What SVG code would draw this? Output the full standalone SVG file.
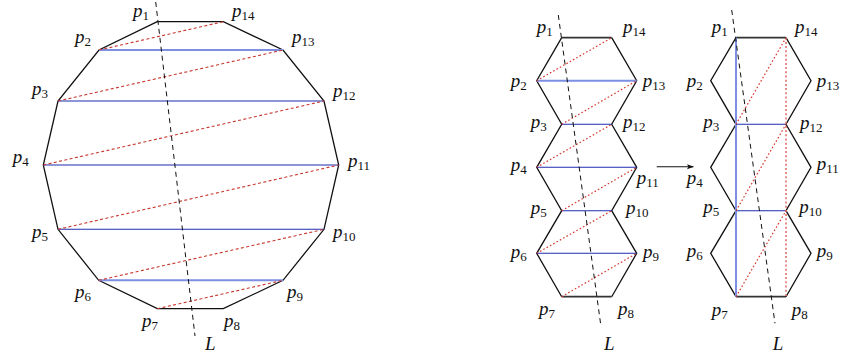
<svg xmlns="http://www.w3.org/2000/svg" width="844" height="354" viewBox="0 0 844 354">
<defs>
<style>
.poly{fill:none;stroke:#111;stroke-width:1.3;stroke-linejoin:miter}
.edge{stroke:#333;stroke-width:1.8}
.L{stroke:#111;stroke-width:1;stroke-dasharray:5 4;fill:none}
.lb{stroke:#7d8fe3;stroke-width:2}
.db{stroke:#1f2cb0;stroke-width:1.1}
.rd{stroke:#c8372d;stroke-width:1.1;stroke-dasharray:3 2.4}
.rdot{stroke:#d8382c;stroke-width:1.2;stroke-dasharray:1.6 2.2}
.rv{stroke:#e0706a;stroke-width:1.6;stroke-dasharray:2 2.2}
text{font-family:"Liberation Serif","DejaVu Serif",serif;font-style:italic;font-size:19px;fill:#111}
.s{font-size:13px;font-style:normal}
</style>
<marker id="ah" viewBox="0 0 10 10" refX="9" refY="5" markerWidth="7" markerHeight="7" orient="auto" markerUnits="userSpaceOnUse"><path d="M0,1.5 L10,5 L0,8.5 L2,5 Z" fill="#111"/></marker>
</defs>

<g id="left-polygon">
<polygon class="poly" points="157.3,21.7 99,50 58,101 43.3,165 58,229.3 98.7,280.3 157.3,308.7 223.3,308.7 283,280.3 324,229.3 338.7,165 324,101 283,50 223.3,21.7"/>
<g id="left-chords">
<line class="lb" x1="99" y1="50" x2="283" y2="50"/>
<line class="db" x1="58" y1="101" x2="324" y2="101"/>
<line class="db" x1="43.3" y1="165" x2="338.7" y2="165"/>
<line class="db" x1="58" y1="229.3" x2="324" y2="229.3"/>
<line class="lb" x1="98.7" y1="280.3" x2="283" y2="280.3"/>
<line class="rd" x1="99" y1="50" x2="223.3" y2="21.7"/>
<line class="rd" x1="58" y1="101" x2="283" y2="50"/>
<line class="rd" x1="43.3" y1="165" x2="324" y2="101"/>
<line class="rd" x1="58" y1="229.3" x2="338.7" y2="165"/>
<line class="rd" x1="98.7" y1="280.3" x2="324" y2="229.3"/>
<line class="rd" x1="157.3" y1="308.7" x2="283" y2="280.3"/>
</g>
<line class="L" x1="155.7" y1="2" x2="195" y2="336"/>
<g id="left-labels">
<text x="133" y="17">p<tspan class="s" dy="3">1</tspan></text>
<text x="232" y="17">p<tspan class="s" dy="3">14</tspan></text>
<text x="75" y="43">p<tspan class="s" dy="3">2</tspan></text>
<text x="292" y="43">p<tspan class="s" dy="3">13</tspan></text>
<text x="32" y="95">p<tspan class="s" dy="3">3</tspan></text>
<text x="333" y="97">p<tspan class="s" dy="3">12</tspan></text>
<text x="12.7" y="163">p<tspan class="s" dy="3">4</tspan></text>
<text x="348" y="167">p<tspan class="s" dy="3">11</tspan></text>
<text x="32" y="238">p<tspan class="s" dy="3">5</tspan></text>
<text x="333" y="238">p<tspan class="s" dy="3">10</tspan></text>
<text x="75" y="298">p<tspan class="s" dy="3">6</tspan></text>
<text x="287" y="298">p<tspan class="s" dy="3">9</tspan></text>
<text x="142" y="327">p<tspan class="s" dy="3">7</tspan></text>
<text x="224" y="327">p<tspan class="s" dy="3">8</tspan></text>
<text x="205" y="350">L</text>
</g>
</g>

<g id="middle-polygon">
<polyline class="poly" points="611.7,37.7 636.7,80.7 611.7,124.3 636.7,167.3 611.7,210.7 636.7,253.3 611.7,296.7"/>
<polyline class="poly" points="561.7,37.7 536.7,80.7 561.7,124.3 536.7,167.3 561.7,210.7 536.7,253.3 561.7,296.7"/>
<line class="poly edge" x1="561.7" y1="37.7" x2="611.7" y2="37.7"/>
<line class="poly edge" x1="561.7" y1="296.7" x2="611.7" y2="296.7"/>
<g id="middle-chords">
<line class="lb" x1="536.7" y1="80.7" x2="636.7" y2="80.7"/>
<line class="db" x1="561.7" y1="124.3" x2="611.7" y2="124.3"/>
<line class="db" x1="536.7" y1="167.3" x2="636.7" y2="167.3"/>
<line class="db" x1="561.7" y1="210.7" x2="611.7" y2="210.7"/>
<line class="db" x1="536.7" y1="253.3" x2="636.7" y2="253.3"/>
<line class="rdot" x1="536.7" y1="80.7" x2="611.7" y2="37.7"/>
<line class="rdot" x1="561.7" y1="124.3" x2="636.7" y2="80.7"/>
<line class="rdot" x1="536.7" y1="167.3" x2="611.7" y2="124.3"/>
<line class="rdot" x1="561.7" y1="210.7" x2="636.7" y2="167.3"/>
<line class="rdot" x1="536.7" y1="253.3" x2="611.7" y2="210.7"/>
<line class="rdot" x1="561.7" y1="296.7" x2="636.7" y2="253.3"/>
</g>
<line class="L" x1="558.3" y1="15" x2="601" y2="326.7"/>
<g id="middle-labels">
<text x="536.7" y="33">p<tspan class="s" dy="3">1</tspan></text>
<text x="623" y="33">p<tspan class="s" dy="3">14</tspan></text>
<text x="510.7" y="87">p<tspan class="s" dy="3">2</tspan></text>
<text x="642.7" y="87">p<tspan class="s" dy="3">13</tspan></text>
<text x="530.7" y="128">p<tspan class="s" dy="3">3</tspan></text>
<text x="623" y="128">p<tspan class="s" dy="3">12</tspan></text>
<text x="510.7" y="171">p<tspan class="s" dy="3">4</tspan></text>
<text x="636.7" y="184">p<tspan class="s" dy="3">11</tspan></text>
<text x="530.7" y="214">p<tspan class="s" dy="3">5</tspan></text>
<text x="626" y="214">p<tspan class="s" dy="3">10</tspan></text>
<text x="510.7" y="258">p<tspan class="s" dy="3">6</tspan></text>
<text x="643" y="258">p<tspan class="s" dy="3">9</tspan></text>
<text x="539" y="315">p<tspan class="s" dy="3">7</tspan></text>
<text x="618" y="315">p<tspan class="s" dy="3">8</tspan></text>
<text x="604" y="350">L</text>
</g>
</g>

<g id="connectors">
<line x1="656.7" y1="166.7" x2="693.3" y2="166.7" stroke="#111" stroke-width="1.1" marker-end="url(#ah)"/>
</g>

<g id="right-polygon">
<polyline class="poly" points="786,37.7 811,80.7 786,124.3 811,167.3 786,210.7 811,253.3 786,296.7"/>
<polyline class="poly" points="736,37.7 710.7,80.7 736,124.3 710.7,167.3 736,210.7 710.7,253.3 736,296.7"/>
<line class="poly edge" x1="736" y1="37.7" x2="786" y2="37.7"/>
<line class="poly edge" x1="736" y1="296.7" x2="786" y2="296.7"/>
<g id="right-chords">
<line class="lb" x1="736" y1="37.7" x2="736" y2="296.7"/>
<line class="db" x1="736" y1="124.3" x2="786" y2="124.3"/>
<line class="db" x1="736" y1="210.7" x2="786" y2="210.7"/>
<line class="rv" x1="786" y1="37.7" x2="786" y2="296.7"/>
<line class="rdot" x1="736" y1="124.3" x2="786" y2="37.7"/>
<line class="rdot" x1="736" y1="210.7" x2="786" y2="124.3"/>
<line class="rdot" x1="736" y1="296.7" x2="786" y2="210.7"/>
</g>
<line class="L" x1="731.7" y1="10" x2="775" y2="323.3"/>
<g id="right-labels">
<text x="711.7" y="33">p<tspan class="s" dy="3">1</tspan></text>
<text x="795" y="33">p<tspan class="s" dy="3">14</tspan></text>
<text x="686.7" y="87">p<tspan class="s" dy="3">2</tspan></text>
<text x="816.7" y="87">p<tspan class="s" dy="3">13</tspan></text>
<text x="703.3" y="128">p<tspan class="s" dy="3">3</tspan></text>
<text x="800" y="129">p<tspan class="s" dy="3">12</tspan></text>
<text x="686.7" y="184">p<tspan class="s" dy="3">4</tspan></text>
<text x="816.7" y="170">p<tspan class="s" dy="3">11</tspan></text>
<text x="703.3" y="213">p<tspan class="s" dy="3">5</tspan></text>
<text x="799.3" y="213">p<tspan class="s" dy="3">10</tspan></text>
<text x="686.7" y="257">p<tspan class="s" dy="3">6</tspan></text>
<text x="816.7" y="257">p<tspan class="s" dy="3">9</tspan></text>
<text x="711.7" y="316">p<tspan class="s" dy="3">7</tspan></text>
<text x="791.7" y="316">p<tspan class="s" dy="3">8</tspan></text>
<text x="772.7" y="350">L</text>
</g>
</g>
</svg>
